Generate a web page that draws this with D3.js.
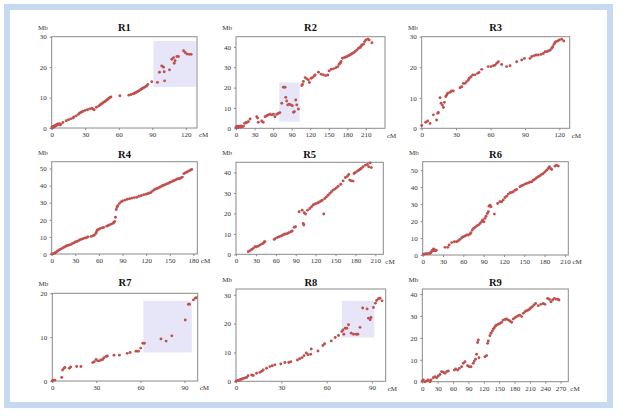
<!DOCTYPE html>
<html><head><meta charset="utf-8">
<script src="https://cdn.jsdelivr.net/npm/d3@7"></script>
<style>body{margin:0;background:#fff}svg{display:block}text{font-family:"Liberation Serif","Times New Roman",serif}</style>
</head><body><svg id="c" width="623" height="418"></svg>
<script>
// ---- data: [cM, Mb] pairs per chromosome ----
const r1Points = [[0,0],[0.5,0.3],[1,0.5],[1.5,0.2],[2,0.6],[2.5,0.4],[3,0.8],[3.5,0.7],[4,1],[4.5,0.9],[5,1.1],[5.5,1.3],[6,1.2],[7,1.4],[7.5,1],[8,1.2],[10,1.8],[13,2.4],[15,2.7],[17,3],[19,3.3],[20,3.6],[22,4],[24,4.5],[25,4.9],[26,5.1],[27,5.3],[28,5.5],[30,5.8],[32,6],[34,6.3],[36,6.5],[37,6.2],[38,6],[40,6.8],[42,7.2],[43,7.5],[44,7.8],[45,8],[46,8.3],[47,8.6],[48,8.8],[49,9.1],[50,9.4],[51,9.7],[52,10],[53,10.2],[61,10.6],[69,10.8],[71,11],[73,11.2],[74,11.4],[75,11.6],[76,11.8],[77,12],[78,12.2],[79,12.5],[80,12.7],[81,13],[82,13.2],[83,13.4],[84,13.6],[85,13.8],[86,14.3],[89.5,15.2],[94.6,15],[96.4,18.3],[98.5,20.4],[100,20],[100.6,18.5],[101,15.5],[105.4,19.1],[107.5,22.6],[109,23.1],[109.6,21.3],[110.4,22.1],[112,23.5],[113.4,23.5],[118,25.4],[119.4,24.8],[121,24.3],[123,24.2],[124.8,24.2]];
const r2Points = [[0,0.5],[1,0.2],[2,1],[3,0.3],[5,1],[7,0.5],[8,1.2],[10,0.8],[12,1],[14,2.5],[16,2.7],[18,3],[20,3.3],[22.7,4.6],[33.5,5.7],[35,5],[36,3],[41.6,3.6],[44,3],[47,5.7],[49.7,6.2],[52,6.5],[55,6.9],[57.8,6.6],[60.5,6.9],[63,5.7],[66,6.9],[68.6,7.4],[71,7.7],[74,12.3],[76.7,20.2],[79.4,20.2],[80.5,15.2],[82,13.4],[83.7,11.5],[86,11.8],[89,11.5],[91,11.1],[93,7.9],[94.5,8.2],[96.7,13.9],[98.3,11.5],[101,9.5],[106.4,21],[107.5,21.6],[109,23],[111.8,24.9],[114.5,24.3],[117,23.8],[118.8,22.5],[121.5,24.6],[123.7,24.9],[126.4,25.7],[128,26.2],[133.4,27.5],[137.7,26.6],[141.5,26.2],[145.2,25.9],[148.5,26.2],[150.6,28.2],[154,29],[157.7,29.2],[161.5,29.8],[164.7,30.3],[166.8,31.5],[168.5,32],[170,32.8],[172.2,34.4],[175.5,34.8],[177.5,35],[179.3,35.2],[182,35.7],[184,36],[186.3,36.4],[188.4,36.9],[190.5,37.2],[192.8,37.7],[195.5,38.5],[198.2,39.3],[200.9,39.7],[202,40.3],[203.6,41],[206.3,41.3],[208,42.6],[210,43.4],[213.3,43.8],[215.4,43.4],[219.8,42]];
const r3Points = [[0,0.9],[3.5,2],[5.2,2.4],[7.3,1.6],[10.2,4.4],[13,2.7],[14,4.9],[14.5,5.2],[16,10],[16.9,8.2],[18,7.6],[18.9,6.8],[19.8,8.5],[21,10.4],[21.8,10.9],[22.7,11.5],[24.7,11.8],[26,12.2],[27.6,12.2],[33.4,13.3],[34.9,13.6],[36.3,14.7],[37.8,14.7],[39.2,15.3],[40.7,15.8],[41.5,16.4],[43,16.9],[44.5,17.5],[46.5,17.5],[48.8,18],[50,18.3],[52.3,19.3],[58,20.2],[60.4,20.2],[62.5,20.5],[64,20.7],[65.4,21.3],[66.8,21.8],[69.7,20.9],[74,20.2],[77,20.5],[82.8,21.8],[87.2,22.4],[89.5,22.9],[94.4,22.9],[95.9,23.5],[98,23.8],[99.7,24],[101.7,24],[104,24.2],[106,24.5],[107.5,25.1],[109,25.1],[110.4,25.3],[111.9,25.6],[113.3,26.2],[114.2,26.7],[115.3,27.5],[116.2,28.1],[117,28.4],[118.5,28.6],[120,28.9],[122,29.2],[123.8,28.6]];
const r4Points = [[0,0],[2,0.2],[4,0.5],[5,1],[7,1.5],[8,2],[10,2.5],[12,3],[14,3.5],[16,4],[18,4.5],[20,5],[22,5.2],[24,5.5],[26,6],[28,6.5],[30,7],[32,7.3],[34,7.8],[36,8.3],[38,8.7],[40,9],[42,9.3],[44,9.5],[46,10],[50,10.3],[52,10.6],[54,11],[56,12],[57,13],[58,14],[60,14.5],[62,15],[64,15.3],[66,15.5],[70,16.3],[72,16.7],[74,17.2],[76,17.5],[78,18],[79,18.5],[80,19],[81,21.5],[82,26],[83,27.5],[84,28.2],[86,29.5],[88,30.5],[90,31],[93,31.5],[96,32],[99,32.3],[102,32.7],[105,33],[108,33.2],[111,33.8],[114,34.2],[117,34.7],[120,35],[122,35.3],[124,35.6],[126,36],[128,36.8],[130,37.5],[132,38],[134,38.3],[136,38.8],[138,39.2],[140,39.8],[142,40.2],[144,40.5],[146,41],[148,41.3],[150,41.8],[152,42.2],[154,42.7],[156,43],[158,43.5],[160,44],[162,44],[164,44.5],[166,45],[168,47],[170,47.5],[172,48],[174,48.5],[176,49],[178,49.5]];
const r5Points = [[18.5,1.3],[21,1.8],[23.6,2.4],[26,2.9],[28.6,3.7],[31,3.7],[33.6,4],[36,4.5],[38.6,5],[41,5.4],[42.6,6],[43.6,6.2],[57.6,7.3],[59.6,7.8],[62.7,8.3],[65,8.6],[67.7,8.9],[70,9.3],[72.7,9.8],[74.7,9.9],[77.7,10.2],[79.7,10.6],[82.7,11],[84.7,11.4],[87.7,13.2],[89.7,13.5],[95.2,20.8],[99.7,21.6],[101.3,15.1],[102.3,14.3],[102.8,20.3],[104.8,19.7],[107.8,21.6],[111.3,22.4],[113.8,23.3],[116.3,24.1],[118.8,24.6],[121.3,24.9],[123.8,25.2],[126.3,25.7],[128.8,26.2],[130.3,26.5],[132.3,19.7],[133.8,27.3],[136.3,28.1],[138.8,28.9],[141.4,29.8],[143.9,30.6],[146.4,31.4],[148.9,31.9],[151.4,32.5],[153.9,33.3],[157.9,34.3],[161.4,35.9],[164.9,37.6],[167.9,38.2],[169.9,39],[171.4,36.3],[174,35.9],[176.4,35.8],[178,39.5],[180,40],[183,40.7],[185,41.1],[187,41.6],[189,42.1],[191.5,42.8],[195,43.6],[198,43.9],[200,42.8],[202,44.7],[204,42.4]];
const r6Points = [[1,0.5],[3,0.6],[5,0.7],[7,0.8],[9,0.8],[11,1],[12,1.5],[13,2],[14,2.5],[15,3],[16,3.5],[17,2.5],[18,3],[19,2.5],[20,2.8],[33,4.5],[37,4.5],[39,5.9],[42.8,7.3],[46.7,7.8],[50,7.8],[52.6,8.4],[55,9.2],[57.6,10.2],[60,10.8],[62.5,11.2],[65,11.8],[67.4,11.8],[70,12.4],[71.3,13.1],[73.3,14.7],[75.3,15.7],[77.2,16.3],[79.7,17.1],[82,17.6],[84.6,18.6],[87,19.6],[88.5,20.6],[90.5,19.6],[92,21.6],[93.5,22.9],[95.4,24.5],[96.9,25.5],[97.9,28.8],[99.4,29.4],[100.8,28.4],[105.8,24.1],[110.7,30.4],[114,31.4],[116.6,31.4],[119,32.4],[121.5,33.9],[124,34.7],[126.4,35.9],[129,36.7],[131.3,36.9],[133.8,37.3],[136.3,38.2],[138.7,38.6],[143.6,40.2],[146,40.8],[148.5,41.2],[151,41.8],[153.5,42.2],[156,42.5],[158.4,43.1],[160.8,43.1],[163.3,44.1],[165.8,44.7],[168.2,45.5],[170.7,46.1],[173,46.7],[175.6,47.5],[178,48],[180.5,49],[183,50],[185.4,51],[187,52],[189,51],[190.4,50.4],[195.3,52.4],[197.7,52.9],[200.2,52.4]];
const r7Points = [[0,0],[0.7,0.2],[1.8,0.2],[6.4,0.8],[7,2.5],[8,2.9],[8.6,3.1],[11.6,2.9],[12.5,3.2],[16.6,3.3],[19.5,3.3],[27.5,4.2],[28.6,4.4],[29.8,4.9],[30.9,4.6],[32,4.6],[33.2,4.8],[34.3,4.9],[35.2,5.3],[36.6,5.6],[37.5,5.7],[42,5.9],[45.7,5.9],[51,6.3],[53,6.5],[57,6.8],[58.6,6.8],[60.2,7.5],[61.6,8.6],[62.7,8.6],[74,9.6],[77.5,9.1],[81.4,10.3],[90.5,13.9],[92.7,17.5],[93.4,17.5],[96.1,18.5],[97.3,18.9],[98,19]];
const r8Points = [[0,0],[1,0.3],[2,0.4],[3,0.6],[4,0.8],[5,1],[6,1.2],[7,1.3],[8,1.9],[10.3,2.2],[11.4,2],[13.6,2.8],[15.8,3.1],[17,3.5],[18,3.9],[20.2,4.5],[22.4,5.1],[24,5.4],[25.7,5.7],[29.6,6],[32.3,6.5],[34.9,6.5],[36.2,6.8],[40.6,7.4],[42.1,7.8],[43.7,8.2],[45,8.9],[46.5,9.8],[47.6,9.2],[49.4,9.4],[49.8,11.2],[54.2,10.5],[57.5,12.4],[58.6,13],[63,14],[65.6,15.2],[67.8,15.9],[70,17.3],[70.7,17.8],[71.3,16.3],[72.2,18.4],[73.3,18.4],[74.4,19.6],[76.2,16.7],[77.7,16.3],[79.5,16.3],[80.6,16.3],[82,18.7],[83.8,25.4],[86.7,25.1],[87.6,21.9],[88.7,21.3],[89.3,22.1],[90.9,25.6],[92.2,27.1],[93,28],[94.2,28.6],[95.3,28.8],[96.6,27.9]];
const r9Points = [[0,0.3],[2,0.8],[5,0],[8.5,0.3],[11.7,0.8],[15,0],[17,0.8],[21.5,1.8],[24.7,2.3],[28,1.8],[31.2,2.6],[34.5,3.3],[37.7,4.6],[41,4.3],[44.2,3.8],[47.5,4.6],[50.7,4.9],[62.5,5.3],[65,5.8],[69,5.3],[72.2,6.1],[76.8,6.8],[80,8.4],[83.3,9.1],[88.5,7.3],[91.7,6.8],[95,6.8],[99.5,8.4],[101.5,9.4],[104,10.3],[106,12.5],[108,17.9],[109.3,19],[110.6,10.9],[122.3,11.4],[125.6,11.9],[127.5,17.5],[128.8,18.6],[132,21],[134,22.1],[136.6,23.1],[138.6,24],[140.5,24.6],[143,25.4],[145,25.9],[148.3,26.2],[151.6,26.6],[154.8,27.1],[158,28.1],[161.4,28.4],[164.6,28.6],[168,28.1],[171,27.7],[174.4,27.1],[177.6,28.6],[180.9,29.2],[184.1,29.7],[187.4,30.1],[190.6,30.4],[193.9,29.7],[197,31.2],[200.4,31.9],[203.6,32.4],[206.9,32.7],[210,33.2],[212.1,33.8],[214.7,34.2],[218,35],[221.2,35.7],[226.4,34.7],[231.6,35.3],[236.2,35.7],[239.4,35.3],[244.6,38],[247.9,37.6],[251.1,36.5],[254.4,37.3],[257.6,38],[260.9,37.7],[264.2,37.6],[266.8,37.3]];

// highlighted regions: [cM from, cM to, Mb from, Mb to]
const r1Highlight = [91, 129, 13.5, 28.6];
const r2Highlight = [70, 103, 3.3, 22.5];
const r7Highlight = [62, 95, 6.5, 18.3];
const r8Highlight = [70, 91.5, 15.2, 27.9];

const titles = ["R1","R2","R3","R4","R5","R6","R7","R8","R9"];
const xMaxes = [130, 241, 129, 185, 222, 215, 99, 99, 285];
const yMaxes = [30, 45, 30, 54, 45, 55, 20, 32, 42.3];
const xTickLists = [[0,30,60,90,120],[0,30,60,90,120,150,180,210],[0,30,60,90,120],[0,30,60,90,120,150,180],[0,30,60,90,120,150,180,210],[0,30,60,90,120,150,180,210],[0,30,60,90],[0,30,60,90],[0,30,60,90,120,150,180,210,240,270]];
const yTickLists = [[0,10,20,30],[0,10,20,30,40],[0,10,20,30],[0,10,20,30,40,50],[0,10,20,30,40],[0,10,20,30,40,50],[0,10,20],[0,10,20,30],[0,10,20,30,40]];
const pointSets = [r1Points,r2Points,r3Points,r4Points,r5Points,r6Points,r7Points,r8Points,r9Points];
const highlights = [r1Highlight,r2Highlight,null,null,null,null,r7Highlight,r8Highlight,null];

// layout boxes [left, top, right, bottom]
const boxes = [
  [51.7,36.7,197,128],[236,36.7,385,128.3],[421.7,36.7,569.7,128.3],
  [51.7,161.7,197.3,254],[236,162.3,383.3,254.3],[422.7,161.7,568.3,255],
  [52.3,293.3,197.7,381],[236,289,385.7,381.3],[422.3,289,568.3,381.7]
];
const titleY = [28,28,28,155,155,155,283,283,283];

const svg = d3.select("#c");
svg.append("rect").attr("x",7).attr("y",7).attr("width",603).attr("height",398)
  .attr("fill","#fff").attr("stroke","#c6d9f0").attr("stroke-width",6);

titles.forEach((name,i)=>{
  const [l,t,r,b] = boxes[i];
  const x = d3.scaleLinear().domain([0,xMaxes[i]]).range([l,r]);
  const y = d3.scaleLinear().domain([0,yMaxes[i]]).range([b,t]);
  const g = svg.append("g");
  const hl = highlights[i];
  if (hl) {
    g.append("rect").attr("x",x(hl[0])).attr("y",y(hl[3]))
      .attr("width",x(hl[1])-x(hl[0])).attr("height",y(hl[2])-y(hl[3]))
      .attr("fill","#e6e6f8");
  }
  g.append("rect").attr("x",l).attr("y",t).attr("width",r-l).attr("height",b-t)
    .attr("fill","none").attr("stroke","#8a8a8a").attr("stroke-width",1);
  const xa = g.append("g").attr("transform",`translate(0,${b})`)
    .call(d3.axisBottom(x).tickValues(xTickLists[i]).tickSize(2).tickPadding(2));
  const ya = g.append("g").attr("transform",`translate(${l},0)`)
    .call(d3.axisLeft(y).tickValues(yTickLists[i]).tickSize(2).tickPadding(3));
  [xa,ya].forEach(a=>{
    a.select(".domain").remove();
    a.selectAll(".tick line").attr("stroke","#8a8a8a");
    a.selectAll(".tick text").attr("fill","#333").style("font-size","7px")
      .style("font-family",'"Liberation Serif",serif');
  });
  g.append("g").selectAll("circle").data(pointSets[i]).join("circle")
    .attr("cx",d=>x(d[0])).attr("cy",d=>y(d[1])).attr("r",1.45).attr("fill","#c0504d");
  g.append("text").attr("x",(l+r)/2).attr("y",titleY[i]+3).attr("text-anchor","middle")
    .style("font-size","10.5px").style("font-weight","bold").attr("fill","#111").text(name);
  g.append("text").attr("x",l-4).attr("y",t-7).attr("text-anchor","end")
    .style("font-size","7px").attr("fill","#333").text("Mb");
  // place "cM" right of the plot, clear of the last tick label
  const lastTick = xa.selectAll(".tick text").nodes().pop();
  const bb = lastTick.getBBox();
  const lastRight = x(xTickLists[i][xTickLists[i].length-1]) + bb.width/2;
  const cmX = Math.max(r + 2, lastRight + 2);
  g.append("text").attr("x",cmX).attr("y",b+9.3).attr("text-anchor","start")
    .style("font-size","7px").attr("fill","#333").text("cM");
});
</script>
</body></html>
